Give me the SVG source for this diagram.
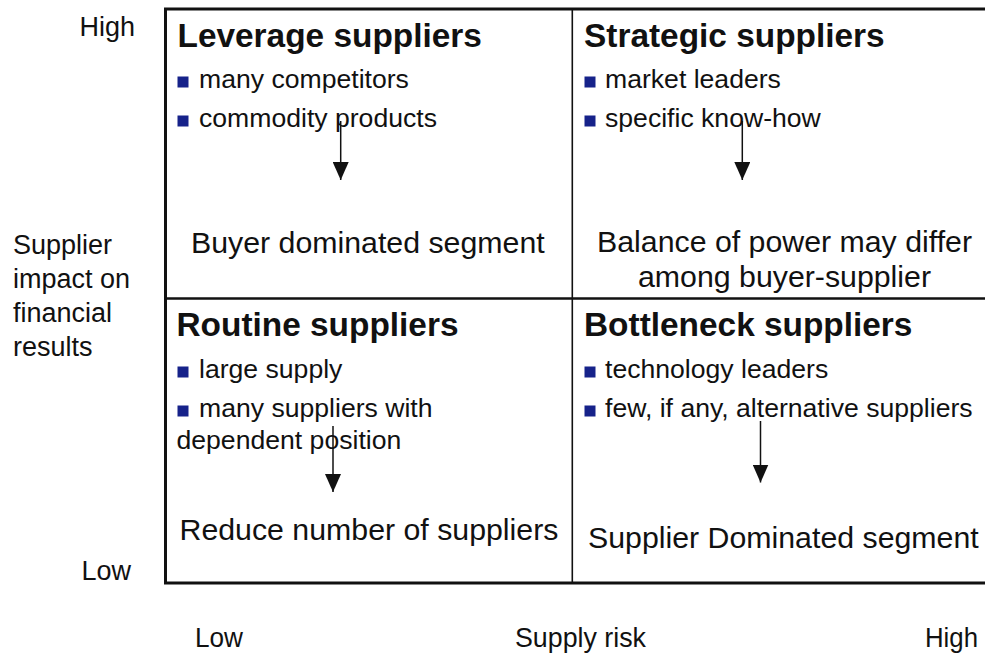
<svg xmlns="http://www.w3.org/2000/svg" width="985" height="655" viewBox="0 0 985 655">
  <style>
    text { font-family: "Liberation Sans", Arial, Helvetica, sans-serif; fill: #111; }
    .title { font-size: 33.4px; font-weight: bold; }
    .item { font-size: 26.6px; }
    .summary { font-size: 30.3px; }
    .axis { font-size: 27px; }
    .bullet { fill: #16228a; }
    .frame { fill: none; stroke: #111; stroke-width: 3; }
    .divider { stroke: #111; }
    .link { stroke: #111; stroke-width: 1.5; fill: none; }
  </style>
  <defs>
    <marker id="head" markerWidth="18" markerHeight="16" refX="18" refY="8" orient="auto" markerUnits="userSpaceOnUse" viewBox="0 0 18 16">
      <path d="M0,0 L18,8 L0,16 Z" fill="#111"/>
    </marker>
  </defs>
  <rect width="985" height="655" fill="#ffffff"/>

  <!-- matrix frame -->
  <g id="grid">
    <path class="frame" d="M990,9 H165.5 V583 H990"/>
    <line class="divider" x1="165" y1="298.5" x2="990" y2="298.5" stroke-width="2.5"/>
    <line class="divider" x1="572.3" y1="9" x2="572.3" y2="583" stroke-width="1.6"/>
  </g>

  <!-- quadrant: leverage -->
  <g id="leverage">
    <text class="title" x="177.5" y="47">Leverage suppliers</text>
    <rect class="bullet" x="177.5" y="76.5" width="11" height="11"/>
    <text class="item" x="199" y="88">many competitors</text>
    <rect class="bullet" x="177.5" y="115.5" width="11" height="11"/>
    <text class="item" x="199" y="127">commodity products</text>
    <text class="summary" x="191" y="253">Buyer dominated segment</text>
  </g>

  <!-- quadrant: strategic -->
  <g id="strategic">
    <text class="title" x="584" y="47">Strategic suppliers</text>
    <rect class="bullet" x="584.5" y="76.5" width="11" height="11"/>
    <text class="item" x="605" y="88">market leaders</text>
    <rect class="bullet" x="584.5" y="115.5" width="11" height="11"/>
    <text class="item" x="605" y="127">specific know-how</text>
    <text class="summary" x="784.5" y="252" text-anchor="middle">Balance of power may differ</text>
    <text class="summary" x="784.5" y="287" text-anchor="middle">among buyer-supplier</text>
  </g>

  <!-- quadrant: routine -->
  <g id="routine">
    <text class="title" x="176.5" y="336">Routine suppliers</text>
    <rect class="bullet" x="177.5" y="366.5" width="11" height="11"/>
    <text class="item" x="199" y="378">large supply</text>
    <rect class="bullet" x="177.5" y="405.5" width="11" height="11"/>
    <text class="item" x="199" y="417">many suppliers with</text>
    <text class="item" x="176.5" y="449">dependent position</text>
    <text class="summary" x="179.5" y="540">Reduce number of suppliers</text>
  </g>

  <!-- quadrant: bottleneck -->
  <g id="bottleneck">
    <text class="title" x="584" y="336">Bottleneck suppliers</text>
    <rect class="bullet" x="584.5" y="366.5" width="11" height="11"/>
    <text class="item" x="605" y="378">technology leaders</text>
    <rect class="bullet" x="584.5" y="405.5" width="11" height="11"/>
    <text class="item" x="605" y="417">few, if any, alternative suppliers</text>
    <text class="summary" x="588" y="548">Supplier Dominated segment</text>
  </g>

  <!-- axis labels -->
  <g id="axis-y">
    <text class="axis" x="135" y="36" text-anchor="end">High</text>
    <text class="axis" x="13" y="254">Supplier</text>
    <text class="axis" x="13" y="288">impact on</text>
    <text class="axis" x="13" y="322">financial</text>
    <text class="axis" x="13" y="356">results</text>
    <text class="axis" x="131" y="580" text-anchor="end">Low</text>
  </g>
  <g id="axis-x">
    <text class="axis" x="195" y="647" textLength="48" lengthAdjust="spacingAndGlyphs">Low</text>
    <text class="axis" x="515" y="647" textLength="131" lengthAdjust="spacingAndGlyphs">Supply risk</text>
    <text class="axis" x="925" y="647" textLength="53" lengthAdjust="spacingAndGlyphs">High</text>
  </g>

  <!-- arrows from traits to outcome -->
  <g id="connectors">
    <line class="link" x1="340.7" y1="121" x2="340.7" y2="180" marker-end="url(#head)"/>
    <line class="link" x1="742.3" y1="121" x2="742.3" y2="180" marker-end="url(#head)"/>
    <line class="link" x1="333" y1="426" x2="333" y2="492" marker-end="url(#head)"/>
    <line class="link" x1="760.5" y1="421" x2="760.5" y2="482.5" marker-end="url(#head)"/>
  </g>
</svg>
